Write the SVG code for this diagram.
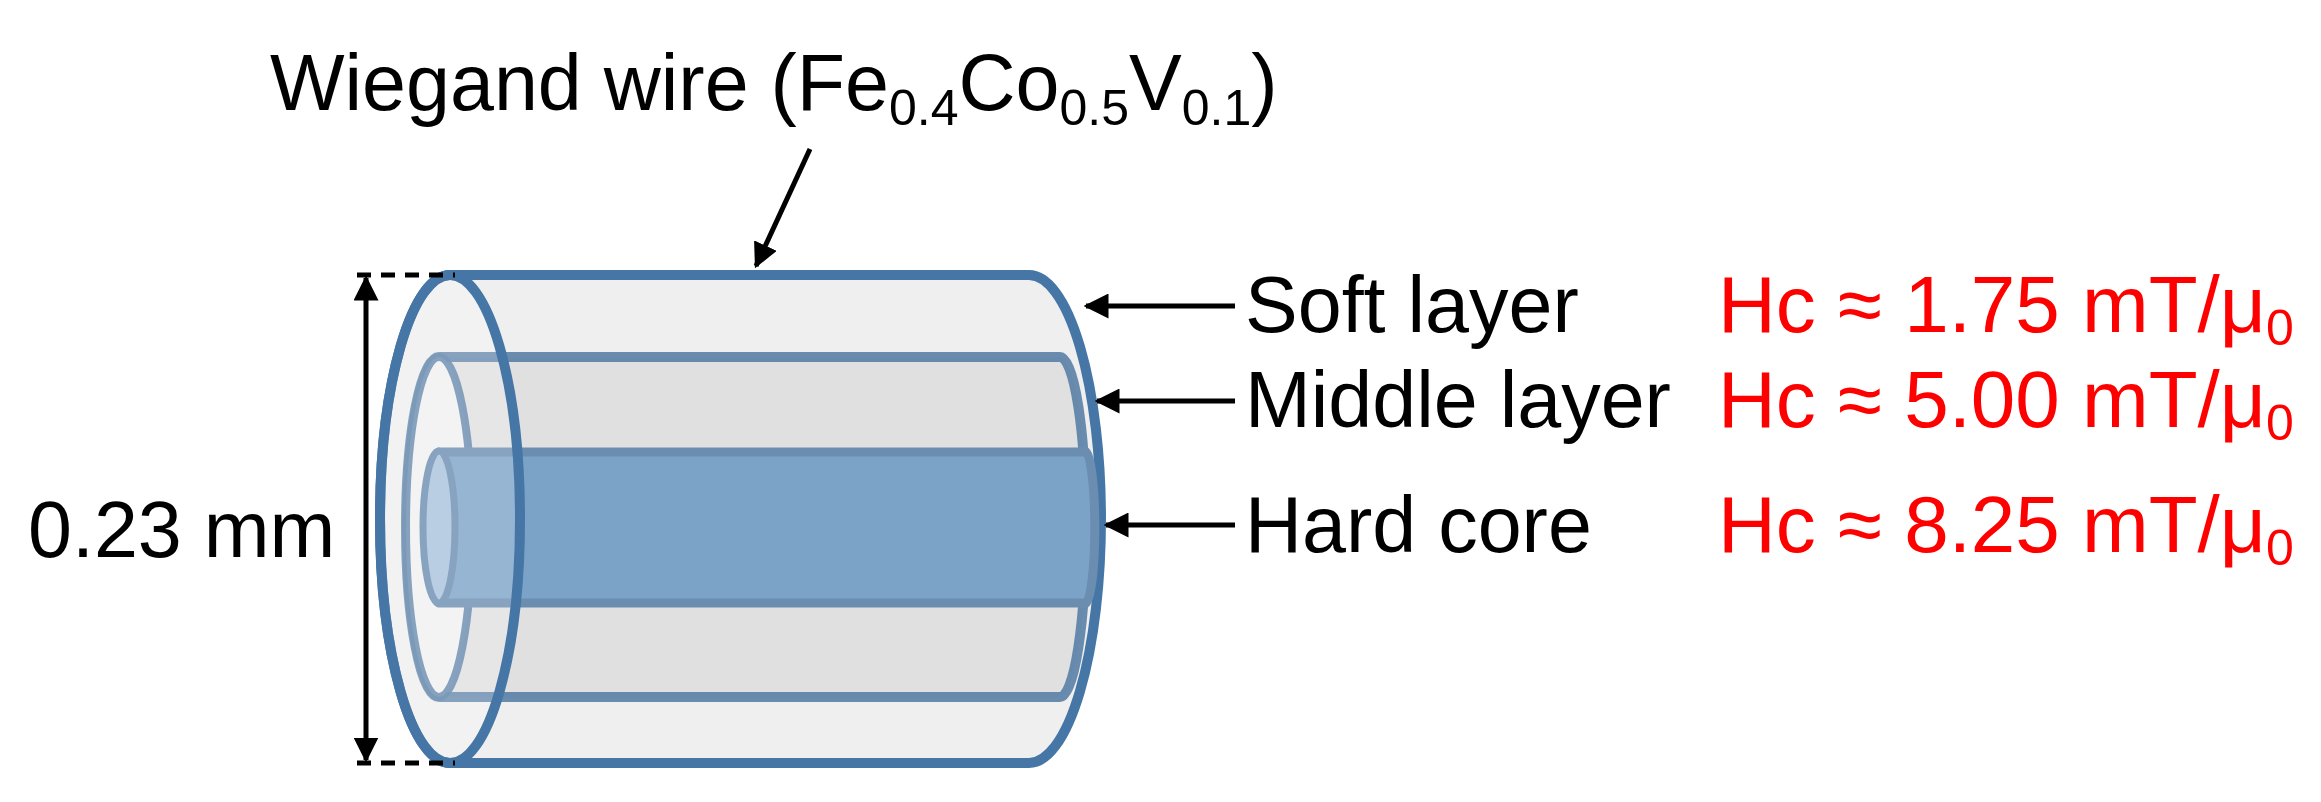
<svg xmlns="http://www.w3.org/2000/svg" width="2321" height="802" viewBox="0 0 2321 802">
<style>
.t{font-family:"Liberation Sans",Arial,sans-serif;font-size:79px;fill:#000}
.r{font-family:"Liberation Sans",Arial,sans-serif;font-size:80px;fill:#ff0000}
.ln{stroke:#000;stroke-width:5;fill:none}
</style>
<defs>
<marker id="ah" viewBox="0 0 10 10" refX="9" refY="5" markerWidth="5" markerHeight="5" orient="auto" markerUnits="strokeWidth">
<path d="M0,0 L10,5 L0,10 Z" fill="#000"/>
</marker>
</defs>
<rect width="2321" height="802" fill="#fff"/>
<g id="wire">
<path d="M450,275 L1029,275 A72,244 0 0 1 1029,763 L450,763 A70,244 0 0 1 450,275 Z" fill="#efefef" stroke="#4676a6" stroke-width="10"/>
<path d="M439,357 L1060,357 A26,170 0 0 1 1060,697 L439,697 A33,170 0 0 1 439,357 Z" fill="#e0e0e0" stroke="#5a80a6" stroke-width="10" stroke-opacity="0.9"/>
<ellipse cx="439" cy="527" rx="33" ry="170" fill="#f0f0f0" stroke="#5a80a6" stroke-width="8" stroke-opacity="0.9"/>
<path d="M439,452 L1086,452 A10,76 0 0 1 1086,603 L439,603 A16,76 0 0 1 439,452 Z" fill="#7ba3c8" stroke="#6a8db0" stroke-width="9"/>
<ellipse cx="439" cy="527" rx="16" ry="76" fill="#a8c2dc" stroke="#6a8db0" stroke-width="7"/>
<ellipse cx="450" cy="519" rx="70" ry="244" fill="#ffffff" fill-opacity="0.2" stroke="#4676a6" stroke-width="10"/>
</g>
<g id="connectors">
<line class="ln" x1="810" y1="149" x2="756" y2="266" marker-end="url(#ah)"/>
<line class="ln" x1="366" y1="300" x2="366" y2="278" marker-end="url(#ah)"/>
<line class="ln" x1="366" y1="290" x2="366" y2="750"/>
<line class="ln" x1="366" y1="740" x2="366" y2="760" marker-end="url(#ah)"/>
<line class="ln" x1="357" y1="275" x2="455" y2="275" stroke-dasharray="14,10"/>
<line class="ln" x1="357" y1="763" x2="455" y2="763" stroke-dasharray="14,10"/>
<line class="ln" x1="1235" y1="306" x2="1086" y2="306" marker-end="url(#ah)"/>
<line class="ln" x1="1235" y1="401" x2="1097" y2="401" marker-end="url(#ah)"/>
<line class="ln" x1="1235" y1="525" x2="1106" y2="525" marker-end="url(#ah)"/>
</g>
<g id="labels">
<text class="t" x="270" y="110">Wiegand wire (Fe<tspan font-size="50" dy="15">0.4</tspan><tspan dy="-15">Co</tspan><tspan font-size="50" dy="15">0.5</tspan><tspan dy="-15">V</tspan><tspan font-size="50" dy="15">0.1</tspan><tspan dy="-15">)</tspan></text>
<text class="t" x="28" y="557">0.23 mm</text>
<text class="t" x="1245" y="332">Soft layer</text>
<text class="t" x="1245" y="427">Middle layer</text>
<text class="t" x="1245" y="552">Hard core</text>
<text class="r" x="1718" y="332">Hc ≈ 1.75 mT/μ<tspan font-size="50" dy="13">0</tspan></text>
<text class="r" x="1718" y="427">Hc ≈ 5.00 mT/μ<tspan font-size="50" dy="13">0</tspan></text>
<text class="r" x="1718" y="552">Hc ≈ 8.25 mT/μ<tspan font-size="50" dy="13">0</tspan></text>
</g>
</svg>
